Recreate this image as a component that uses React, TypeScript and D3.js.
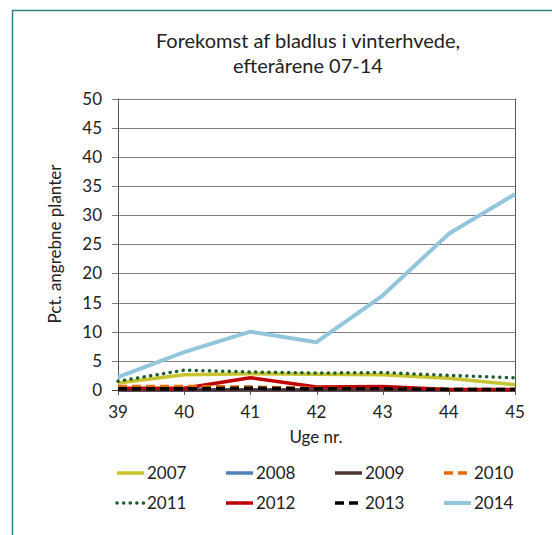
import React from "react";
import * as d3 from "d3";

const weeks = [39, 40, 41, 42, 43, 44, 45];
const yTicks = [0, 5, 10, 15, 20, 25, 30, 35, 40, 45, 50];
const seriesNames = ["2007", "2008", "2009", "2010", "2011", "2012", "2013", "2014"];
const v2007 = [1.2, 2.6, 2.8, 2.7, 2.6, 2.0, 0.9];
const v2008 = [0, 0, 0, 0, 0, 0, 0];
const v2009 = [0, 0, 0, 0, 0, 0, 0];
const v2010 = [0.6, 0.6, 0.5, 0.3, 0.2, 0.1, 0.1];
const v2011 = [1.5, 3.4, 3.1, 2.9, 3.0, 2.5, 2.1];
const v2012 = [0.3, 0.3, 2.1, 0.5, 0.6, 0.1, 0.1];
const v2013 = [0.2, 0.2, 0.3, 0.2, 0.2, 0.1, 0.1];
const v2014 = [2.2, 6.5, 10.0, 8.2, 16.2, 26.8, 33.6];
const seriesValues = [v2007, v2008, v2009, v2010, v2011, v2012, v2013, v2014];

const styles: Record<string, { color: string; width: number; dash?: string; cap?: string }> = {
  "2007": { color: "#c8c430", width: 3.5 },
  "2008": { color: "#4f81bd", width: 3.5 },
  "2009": { color: "#4e3330", width: 3.5 },
  "2010": { color: "#e46c0a", width: 3.5, dash: "9,5" },
  "2011": { color: "#1e5c30", width: 3.5, dash: "0.1,6.5", cap: "round" },
  "2012": { color: "#c00000", width: 3.5 },
  "2013": { color: "#000000", width: 3.5, dash: "9,5" },
  "2014": { color: "#93c6dd", width: 4 },
};

const FONT = "Lato, 'Open Sans', sans-serif";

export default function App() {
  const x = d3.scaleLinear().domain([39, 45]).range([118, 515]);
  const y = d3.scaleLinear().domain([0, 50]).range([390, 98.5]);
  const line = d3
    .line<number>()
    .x((_, i) => x(weeks[i]))
    .y((d) => y(d));

  const drawOrder = ["2014", "2007", "2008", "2009", "2011", "2012", "2010", "2013"];

  return (
    <svg
      width={552}
      height={535}
      style={{ position: "absolute", left: 0, top: 0, background: "#fff" }}
      fontFamily={FONT}
    >
      <rect x={0} y={0} width={552} height={535} fill="#fff" />
      <line x1={12} y1={10.5} x2={552} y2={10.5} stroke="#2e7f86" strokeWidth={1.5} />
      <line x1={12.5} y1={10} x2={12.5} y2={535} stroke="#2e7f86" strokeWidth={1.5} />

      <text x={308} y={48} textAnchor="middle" fontSize={20} fill="#222">
        Forekomst af bladlus i vinterhvede,
      </text>
      <text x={308} y={73} textAnchor="middle" fontSize={20} fill="#222">
        efterårene 07-14
      </text>

      {yTicks.map((t) => (
        <g key={t}>
          <line
            x1={112}
            x2={515}
            y1={Math.round(y(t)) + 0.5}
            y2={Math.round(y(t)) + 0.5}
            stroke={t === 0 ? "#444" : "#7f7f7f"}
            strokeWidth={1}
          />
          <text x={102} y={y(t) + 6} textAnchor="end" fontSize={17} fill="#222">
            {t}
          </text>
        </g>
      ))}
      <line x1={118.5} x2={118.5} y1={y(50)} y2={395} stroke="#555" strokeWidth={1} />
      <line x1={515.5} x2={515.5} y1={y(50)} y2={395} stroke="#555" strokeWidth={1} />
      {weeks.map((w) => (
        <g key={w}>
          <line x1={Math.round(x(w)) + 0.5} x2={Math.round(x(w)) + 0.5} y1={390} y2={395} stroke="#555" />
          <text x={x(w)} y={418} textAnchor="middle" fontSize={17} fill="#222">
            {w}
          </text>
        </g>
      ))}

      <text x={316} y={443} textAnchor="middle" fontSize={17} fill="#222">
        Uge nr.
      </text>
      <text
        transform={`translate(61,${244}) rotate(-90)`}
        textAnchor="middle"
        fontSize={17}
        fill="#222"
      >
        Pct. angrebne planter
      </text>

      {drawOrder.map((name) => {
        const i = seriesNames.indexOf(name);
        const s = styles[name];
        return (
          <path
            key={name}
            d={line(seriesValues[i]) || ""}
            fill="none"
            stroke={s.color}
            strokeWidth={s.width}
            strokeDasharray={s.dash}
            strokeLinecap={(s.cap as any) || "butt"}
            strokeLinejoin="round"
          />
        );
      })}

      {seriesNames.map((name, i) => {
        const col = i % 4;
        const row = Math.floor(i / 4);
        const lx = 117 + col * 109;
        const ly = 473 + row * 30;
        const s = styles[name];
        return (
          <g key={name}>
            <line
              x1={lx}
              x2={lx + 27}
              y1={ly}
              y2={ly}
              stroke={s.color}
              strokeWidth={s.width}
              strokeDasharray={s.dash}
              strokeLinecap={(s.cap as any) || "butt"}
            />
            <text x={lx + 30} y={ly + 6} fontSize={17} fill="#222">
              {name}
            </text>
          </g>
        );
      })}
    </svg>
  );
}
